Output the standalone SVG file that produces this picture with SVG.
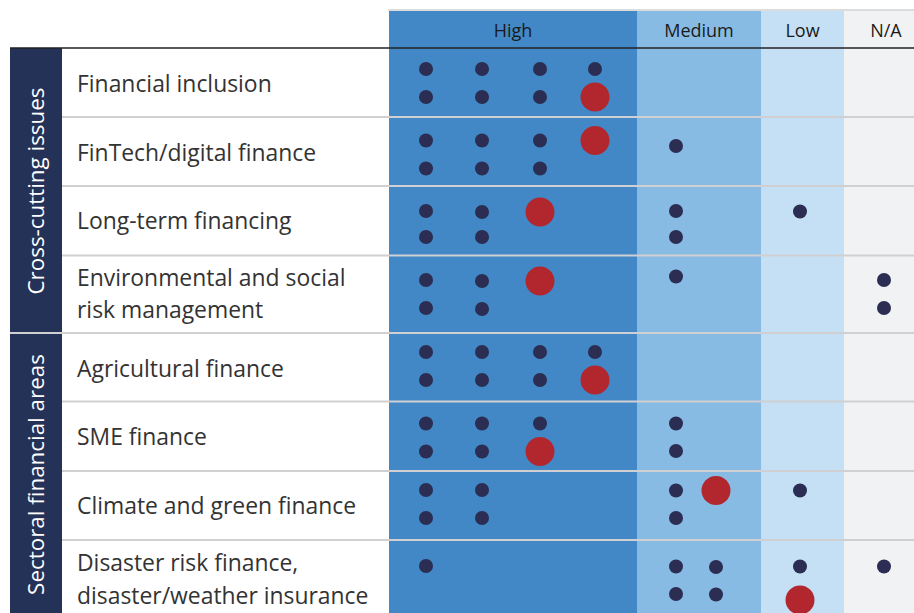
<svg xmlns="http://www.w3.org/2000/svg" width="914" height="613" viewBox="0 0 914 613">
<style>
.lbl{font-family:"Open Sans","Liberation Sans",sans-serif;font-size:22.9px;fill:#333333}
.hdr{font-family:"Open Sans","Liberation Sans",sans-serif;font-size:18px;fill:#1a1a1a;text-anchor:middle}
.side{font-family:"Open Sans","Liberation Sans",sans-serif;font-size:22.4px;fill:#ffffff;text-anchor:middle}
.d{fill:#2b2d52}
.r{fill:#b2272e}
.sep{stroke:#d0d0d2;stroke-width:2}
</style>
<rect width="914" height="613" fill="#ffffff"/>
<g id="columns">
<rect x="389" y="11" width="248" height="602" fill="#4288c7"/>
<rect x="637" y="11" width="124" height="602" fill="#88bbe4"/>
<rect x="761" y="11" width="83" height="602" fill="#c5e0f4"/>
<rect x="844" y="11" width="70" height="602" fill="#f1f2f4"/>
<line x1="388" y1="10" x2="914" y2="10" stroke="#d0d0d2" stroke-width="1.5"/>
</g>
<g id="header">
<text class="hdr" x="513" y="37">High</text>
<text class="hdr" x="699" y="37">Medium</text>
<text class="hdr" x="802.5" y="37">Low</text>
<text class="hdr" x="886" y="37">N/A</text>
</g>
<g id="bands">
<rect x="10" y="48" width="52" height="565" fill="#253257"/>
<text class="side" transform="translate(44,191) rotate(-90)">Cross-cutting issues</text>
<text class="side" transform="translate(44,474.5) rotate(-90)">Sectoral financial areas</text>
</g>
<g id="grid">
<line class="sep" x1="62" y1="117" x2="914" y2="117"/>
<line class="sep" x1="62" y1="186" x2="914" y2="186"/>
<line class="sep" x1="62" y1="255.5" x2="914" y2="255.5"/>
<line class="sep" x1="10" y1="333" x2="914" y2="333"/>
<line class="sep" x1="62" y1="401.5" x2="914" y2="401.5"/>
<line class="sep" x1="62" y1="471" x2="914" y2="471"/>
<line class="sep" x1="62" y1="540" x2="914" y2="540"/>
<line x1="10" y1="48" x2="914" y2="48" stroke="#222222" stroke-width="1.6"/>
</g>
<g id="row-financial-inclusion">
<text class="lbl" x="77" y="92">Financial inclusion</text>
<circle class="d" cx="426" cy="69" r="7"/><circle class="d" cx="482" cy="69" r="7"/><circle class="d" cx="540" cy="69" r="7"/><circle class="d" cx="595" cy="69" r="7"/>
<circle class="d" cx="426" cy="97" r="7"/><circle class="d" cx="482" cy="97" r="7"/><circle class="d" cx="540" cy="97" r="7"/><circle class="r" cx="595" cy="97" r="14.5"/>
</g>
<g id="row-fintech">
<text class="lbl" x="77" y="161">FinTech/digital finance</text>
<circle class="d" cx="426" cy="140.5" r="7"/><circle class="d" cx="482" cy="140.5" r="7"/><circle class="d" cx="540" cy="140.5" r="7"/><circle class="r" cx="595" cy="140.5" r="14.5"/>
<circle class="d" cx="426" cy="168.5" r="7"/><circle class="d" cx="482" cy="168.5" r="7"/><circle class="d" cx="540" cy="168.5" r="7"/>
<circle class="d" cx="676" cy="146" r="7"/>
</g>
<g id="row-long-term">
<text class="lbl" x="77" y="229">Long-term financing</text>
<circle class="d" cx="426" cy="211" r="7"/><circle class="d" cx="482" cy="212" r="7"/><circle class="r" cx="540" cy="212" r="14.5"/>
<circle class="d" cx="426" cy="237" r="7"/><circle class="d" cx="482" cy="237" r="7"/>
<circle class="d" cx="676" cy="211" r="7"/><circle class="d" cx="676" cy="237" r="7"/>
<circle class="d" cx="800" cy="211.5" r="7"/>
</g>
<g id="row-environmental">
<text class="lbl" x="77" y="286">Environmental and social</text>
<text class="lbl" x="77" y="318">risk management</text>
<circle class="d" cx="426" cy="280" r="7"/><circle class="d" cx="482" cy="281" r="7"/><circle class="r" cx="540" cy="281" r="14.5"/>
<circle class="d" cx="426" cy="308" r="7"/><circle class="d" cx="482" cy="309" r="7"/>
<circle class="d" cx="676" cy="276.5" r="7"/>
<circle class="d" cx="884" cy="280" r="7"/><circle class="d" cx="884" cy="308" r="7"/>
</g>
<g id="row-agricultural">
<text class="lbl" x="77" y="377">Agricultural finance</text>
<circle class="d" cx="426" cy="352" r="7"/><circle class="d" cx="482" cy="352" r="7"/><circle class="d" cx="540" cy="352" r="7"/><circle class="d" cx="595" cy="352" r="7"/>
<circle class="d" cx="426" cy="380" r="7"/><circle class="d" cx="482" cy="380" r="7"/><circle class="d" cx="540" cy="380" r="7"/><circle class="r" cx="595" cy="380" r="14.5"/>
</g>
<g id="row-sme">
<text class="lbl" x="77" y="444.5">SME finance</text>
<circle class="d" cx="426" cy="423.5" r="7"/><circle class="d" cx="482" cy="423.5" r="7"/><circle class="d" cx="540" cy="423.5" r="7"/>
<circle class="d" cx="426" cy="451.5" r="7"/><circle class="d" cx="482" cy="451.5" r="7"/><circle class="r" cx="540" cy="451.5" r="14.5"/>
<circle class="d" cx="676" cy="423.5" r="7"/><circle class="d" cx="676" cy="451" r="7"/>
</g>
<g id="row-climate">
<text class="lbl" x="77" y="513.5">Climate and green finance</text>
<circle class="d" cx="426" cy="490" r="7"/><circle class="d" cx="482" cy="490" r="7"/>
<circle class="d" cx="426" cy="518" r="7"/><circle class="d" cx="482" cy="518" r="7"/>
<circle class="d" cx="676" cy="490.5" r="7"/><circle class="r" cx="716" cy="490.5" r="14.5"/><circle class="d" cx="676" cy="518" r="7"/>
<circle class="d" cx="800" cy="490.5" r="7"/>
</g>
<g id="row-disaster">
<text class="lbl" x="77" y="571">Disaster risk finance,</text>
<text class="lbl" x="77" y="603.5">disaster/weather insurance</text>
<circle class="d" cx="426" cy="566" r="7"/>
<circle class="d" cx="676" cy="566.5" r="7"/><circle class="d" cx="716" cy="567" r="7"/>
<circle class="d" cx="676" cy="594" r="7"/><circle class="d" cx="716" cy="594.5" r="7"/>
<circle class="d" cx="800" cy="566.5" r="7"/><circle class="r" cx="800" cy="600" r="14.5"/>
<circle class="d" cx="884" cy="566.5" r="7"/>
</g>
</svg>
